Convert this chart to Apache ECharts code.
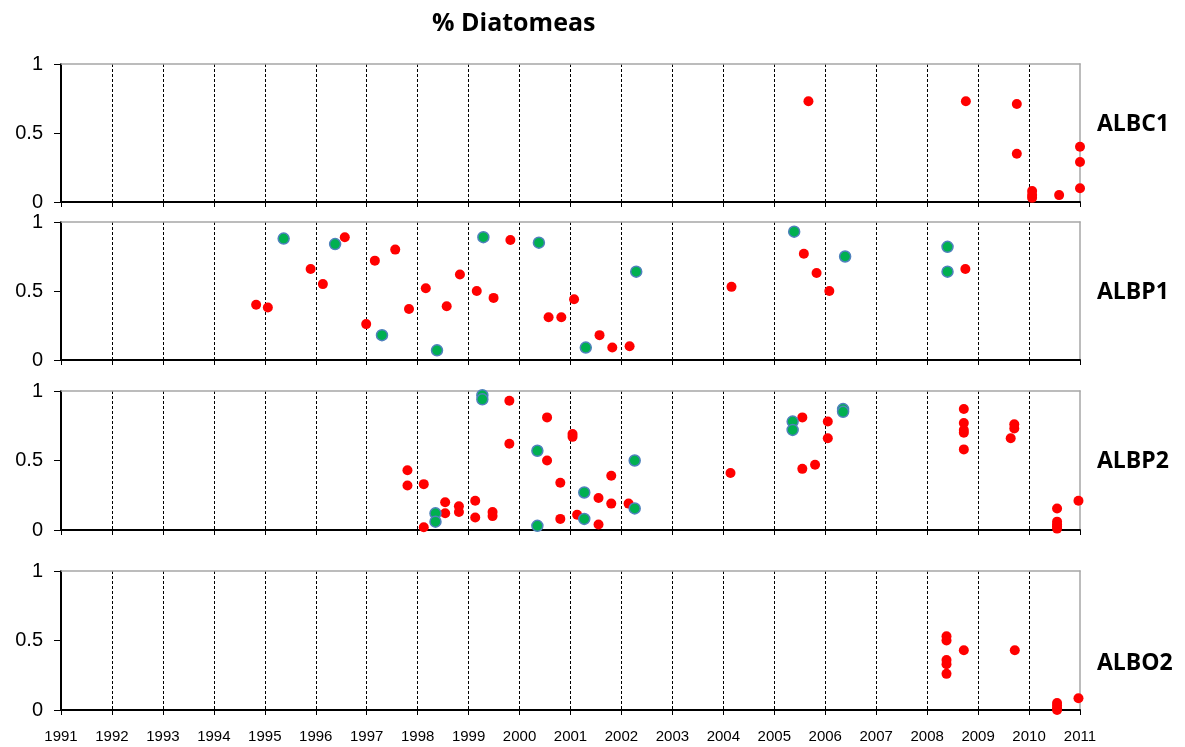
<!DOCTYPE html>
<html>
<head>
<meta charset="utf-8">
<title>% Diatomeas</title>
<script src="https://cdn.jsdelivr.net/npm/echarts@6/dist/echarts.min.js"></script>
<style>
  html, body { margin: 0; padding: 0; background: #fff; }
  #chart { width: 1185px; height: 747px; }
</style>
</head>
<body>
<div id="chart"></div>
<script>
// Station names, one panel each (top to bottom)
const stations = ['ALBC1', 'ALBP1', 'ALBP2', 'ALBO2'];

// Year range and tick labels of the shared time axis
const yearMin = 1991;
const yearMax = 2011;
const yTicks = [0, 0.5, 1];

// Diatom fraction per sample: [decimal year, fraction]
// Red series
const albc1Red = [
  [2005.67, 0.73], [2008.76, 0.73], [2009.76, 0.71], [2009.76, 0.35],
  [2010.06, 0.08], [2010.06, 0.05], [2010.06, 0.03], [2010.59, 0.05],
  [2011.0, 0.40], [2011.0, 0.29], [2011.0, 0.10]
];
const albp1Red = [
  [1994.83, 0.40], [1995.06, 0.38], [1995.90, 0.66], [1996.14, 0.55],
  [1996.57, 0.89], [1996.99, 0.26], [1997.16, 0.72], [1997.56, 0.80],
  [1997.83, 0.37], [1998.16, 0.52], [1998.57, 0.39], [1998.83, 0.62],
  [1999.16, 0.50], [1999.49, 0.45], [1999.82, 0.87], [2000.57, 0.31],
  [2000.82, 0.31], [2001.07, 0.44], [2001.57, 0.18], [2001.82, 0.09],
  [2002.16, 0.10], [2004.16, 0.53], [2005.58, 0.77], [2005.83, 0.63],
  [2006.08, 0.50], [2008.75, 0.66]
];
const albp2Red = [
  [1997.80, 0.43], [1997.80, 0.32], [1998.12, 0.33], [1998.12, 0.02],
  [1998.54, 0.20], [1998.54, 0.12], [1998.81, 0.17], [1998.81, 0.13],
  [1999.13, 0.21], [1999.13, 0.09], [1999.47, 0.13], [1999.47, 0.10],
  [1999.80, 0.93], [1999.80, 0.62], [2000.54, 0.81], [2000.54, 0.50],
  [2000.80, 0.34], [2000.80, 0.08], [2001.04, 0.69], [2001.04, 0.67],
  [2001.13, 0.11], [2001.55, 0.23], [2001.55, 0.04], [2001.80, 0.39],
  [2001.80, 0.19], [2002.14, 0.19], [2004.14, 0.41], [2005.55, 0.81],
  [2005.55, 0.44], [2005.80, 0.47], [2006.05, 0.78], [2006.05, 0.66],
  [2008.72, 0.87], [2008.72, 0.77], [2008.72, 0.72], [2008.72, 0.70],
  [2008.72, 0.58], [2009.71, 0.76], [2009.71, 0.73], [2009.64, 0.66],
  [2010.55, 0.155], [2010.55, 0.06], [2010.55, 0.04], [2010.55, 0.025],
  [2010.55, 0.01], [2010.97, 0.21]
];
const albo2Red = [
  [2008.38, 0.53], [2008.38, 0.50], [2008.38, 0.36], [2008.38, 0.33],
  [2008.38, 0.26], [2008.72, 0.43], [2009.72, 0.43], [2010.55, 0.05],
  [2010.55, 0.03], [2010.55, 0.01], [2010.55, 0.0], [2010.97, 0.085]
];
// Green series
const albc1Green = [];
const albp1Green = [
  [1995.37, 0.88], [1996.38, 0.84], [1997.30, 0.18], [1998.38, 0.07],
  [1999.29, 0.89], [2000.38, 0.85], [2001.30, 0.09], [2002.29, 0.64],
  [2005.39, 0.93], [2006.39, 0.75], [2008.40, 0.82], [2008.40, 0.64]
];
const albp2Green = [
  [1998.35, 0.12], [1998.35, 0.06], [1999.27, 0.97], [1999.27, 0.94],
  [2000.35, 0.57], [2000.35, 0.03], [2001.27, 0.27], [2001.27, 0.08],
  [2002.26, 0.50], [2002.26, 0.155], [2005.36, 0.78], [2005.36, 0.72],
  [2006.35, 0.87], [2006.35, 0.85]
];
const albo2Green = [];

const redData = [albc1Red, albp1Red, albp2Red, albo2Red];
const greenData = [albc1Green, albp1Green, albp2Green, albo2Green];

// Panel layout
const gridTops = [64, 222, 391, 571];
const gridHeights = [138, 138, 139, 139];
const labelCentres = [123, 291, 460, 662];

const axisFont = "'Liberation Sans', Arial, sans-serif";
const boldFont = "'Open Sans', 'Noto Sans', sans-serif";

// Vertical dashed year lines: none on the outer edges
const yearLineColours = [];
for (let y = yearMin; y <= yearMax; y++) {
  yearLineColours.push(y === yearMin || y === yearMax ? 'rgba(0,0,0,0)' : '#000');
}

const grid = [], xAxis = [], yAxis = [], series = [], graphic = [];

stations.forEach((name, i) => {
  grid.push({ left: 61, right: 105, top: gridTops[i], height: gridHeights[i] });

  // bottom time axis
  xAxis.push({
    gridIndex: i, type: 'value', position: 'bottom',
    min: yearMin, max: yearMax, interval: 1,
    axisLine: { show: true, onZero: false, lineStyle: { color: '#000', width: 2 } },
    axisTick: { show: true, length: 5, lineStyle: { color: '#000', width: 1 } },
    axisLabel: {
      show: i === stations.length - 1,
      formatter: v => String(v),
      color: '#000', fontSize: 15, fontFamily: axisFont, margin: 19
    },
    splitLine: { show: true, lineStyle: { color: yearLineColours, type: [3, 2], width: 1 } }
  });
  // top frame line
  xAxis.push({
    gridIndex: i, type: 'value', position: 'top',
    min: yearMin, max: yearMax, interval: 1,
    axisLine: { show: true, onZero: false, lineStyle: { color: '#a6a6a6', width: 1.5 } },
    axisTick: { show: false }, axisLabel: { show: false }, splitLine: { show: false }
  });

  // fraction axis
  yAxis.push({
    gridIndex: i, type: 'value', position: 'left',
    min: yTicks[0], max: yTicks[yTicks.length - 1], interval: 0.5,
    axisLine: { show: true, onZero: false, lineStyle: { color: '#000', width: 2 } },
    axisTick: { show: true, length: 7, lineStyle: { color: '#000', width: 1 } },
    axisLabel: { color: '#000', fontSize: 20, fontFamily: axisFont, margin: 18 },
    splitLine: { show: false }
  });
  // right frame line
  yAxis.push({
    gridIndex: i, type: 'value', position: 'right',
    min: 0, max: 1, interval: 0.5,
    axisLine: { show: true, onZero: false, lineStyle: { color: '#a6a6a6', width: 1.5 } },
    axisTick: { show: false }, axisLabel: { show: false }, splitLine: { show: false }
  });

  series.push({
    type: 'scatter', xAxisIndex: i * 2, yAxisIndex: i * 2,
    data: redData[i], symbol: 'circle', symbolSize: 10, clip: false,
    itemStyle: { color: '#ff0000', opacity: 1 }, z: 3
  });
  series.push({
    type: 'scatter', xAxisIndex: i * 2, yAxisIndex: i * 2,
    data: greenData[i], symbol: 'circle', symbolSize: 11, clip: false,
    itemStyle: { color: '#00b050', borderColor: '#4f81bd', borderWidth: 1.5, opacity: 1 }, z: 4
  });

  graphic.push({
    type: 'text', left: 1097, top: labelCentres[i] - 10,
    style: { text: name, fill: '#000', font: 'bold 23px ' + boldFont }
  });
});

graphic.push({
  type: 'text', left: 432, top: 11,
  style: { text: '% Diatomeas', fill: '#000', font: 'bold 25px ' + boldFont }
});

const chart = echarts.init(document.getElementById('chart'), null, { renderer: 'canvas' });
chart.setOption({
  animation: false,
  backgroundColor: '#fff',
  grid, xAxis, yAxis, series, graphic
});
</script>
</body>
</html>
